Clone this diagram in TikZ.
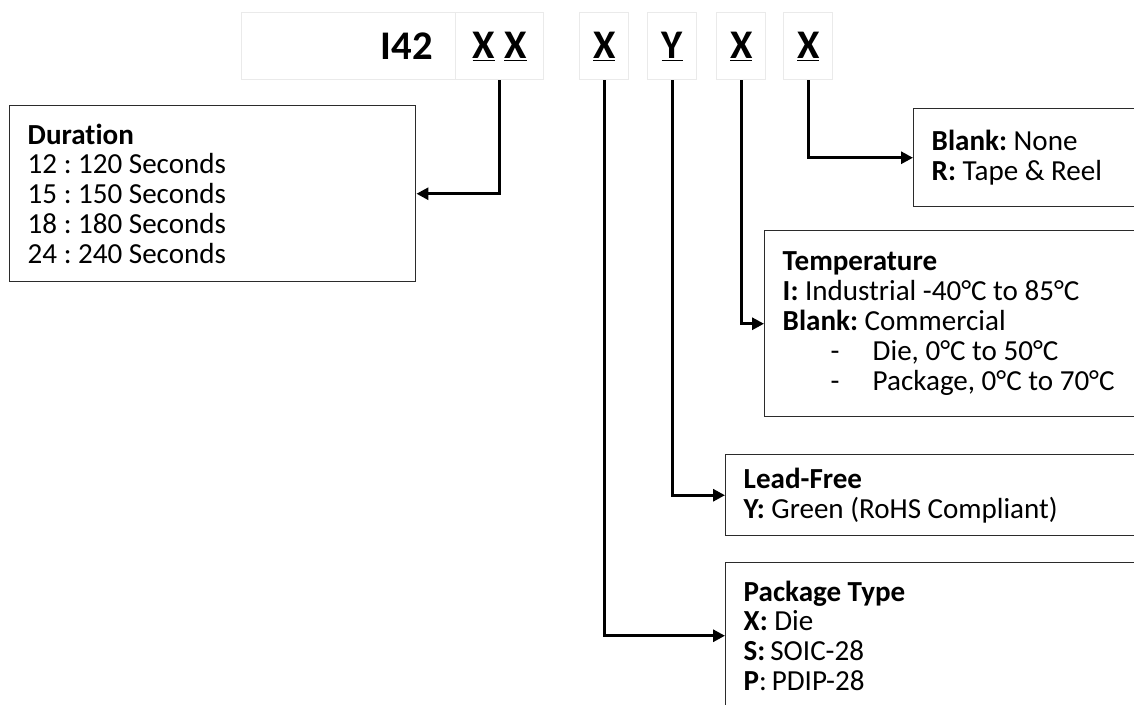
\documentclass[tikz,border=0pt]{standalone}
\usepackage{fontspec}
\setmainfont{Carlito}[Ligatures=NoCommon]
\usepackage{xcolor}
\usetikzlibrary{arrows.meta,positioning}
\frenchspacing
\newlength{\upx}
\setlength{\upx}{0.75pt}
\definecolor{codeInk}{HTML}{000000}
\definecolor{codeLine}{HTML}{2B2B2B}
\definecolor{cellLine}{HTML}{EAEAEA}
\tikzset{
  codeCell/.style={
    draw=cellLine,
    line width=1.1pt,
    inner sep=0pt,
    minimum height=67\upx,
    anchor=north west,
    font=\fontsize{30.5pt}{33pt}\selectfont\bfseries,
    text=codeInk
  },
  codeBox/.style={
    draw=codeLine,
    line width=1.1pt,
    anchor=north west,
    align=flush left,
    inner xsep=18\upx,
    inner ysep=0pt,
    font=\fontsize{21.8pt}{22.4pt}\selectfont\frenchspacing,
    text=codeInk
  },
  codeArrow/.style={-{Triangle[length=9pt,width=9pt]}, line width=2.2pt, draw=codeInk}
}
\newcommand{\codeDash}[1]{\hspace*{36pt}\makebox[31.5pt][l]{-}#1}

\begin{document}
\begin{tikzpicture}[x=0.75pt, y=-0.75pt]
    \useasboundingbox (0,0) rectangle (1134,704);
    \clip (0,0) rectangle (1134,704);

    % part number cells
    \node[codeCell, minimum width=214\upx, text width=168\upx, align=right]
      (hdrbase) at (241,12) {I42};
    \node[codeCell, minimum width=88\upx] (hdrdur) at (455,12)
      {\underline{X}\ \underline{X}};
    \node[codeCell, minimum width=49\upx] (hdrpkg) at (579,12) {\underline{X}};
    \node[codeCell, minimum width=49\upx] (hdrlead) at (647,12) {\underline{Y}};
    \node[codeCell, minimum width=49\upx] (hdrtemp) at (716,12) {\underline{X}};
    \node[codeCell, minimum width=49\upx] (hdrreel) at (783,12) {\underline{X}};

    % option boxes
    \node[codeBox, minimum width=406\upx, minimum height=176\upx,
      text width=370\upx] (durbox) at (9,105)
      {\textbf{Duration}\\12 : 120 Seconds\\15 : 150 Seconds\\
      18 : 180 Seconds\\24 : 240 Seconds};
    \node[codeBox, minimum width=280\upx, minimum height=98\upx,
      text width=244\upx] (reelbox) at (913,108)
      {\textbf{Blank:} None\\\textbf{R:} Tape \& Reel};
    \node[codeBox, minimum width=420\upx, minimum height=186\upx,
      text width=384\upx] (tempbox) at (764,230)
      {\textbf{Temperature}\\\textbf{I:} Industrial -40°C to 85°C\\
      \textbf{Blank:} Commercial\\\codeDash{Die, 0°C to 50°C}\\
      \codeDash{Package, 0°C to 70°C}};
    \node[codeBox, minimum width=460\upx, minimum height=81\upx,
      text width=424\upx] (leadbox) at (725,454)
      {\textbf{Lead-Free}\\\textbf{Y:} Green (RoHS Compliant)};
    \node[codeBox, minimum width=460\upx, minimum height=146\upx,
      text width=424\upx] (pkgbox) at (725,562)
      {\textbf{Package Type}\\\textbf{X:} Die\\\textbf{S:}\,SOIC-28\\
      \textbf{P}:\,PDIP-28};

    \draw[codeArrow] (hdrdur.south) |- (durbox.east);
    \draw[codeArrow] (hdrreel.south) |- (reelbox.west);
    \draw[codeArrow] (hdrtemp.south) |- (tempbox.west);
    \draw[codeArrow] (hdrlead.south) |- (leadbox.west);
    \draw[codeArrow] (hdrpkg.south) |- (pkgbox.west);
  \end{tikzpicture}
\end{document}
